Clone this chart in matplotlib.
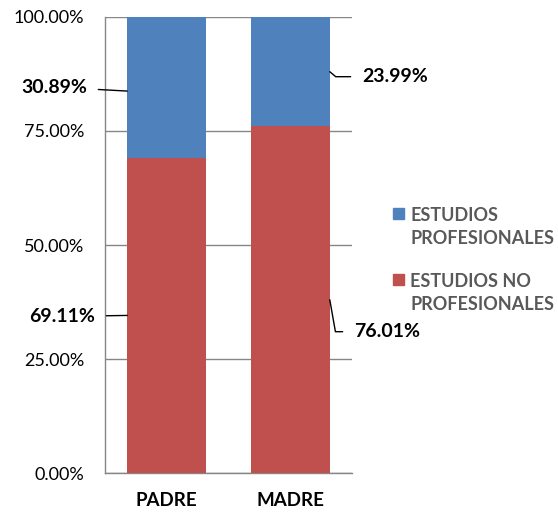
import matplotlib
matplotlib.use("Agg")
import matplotlib.pyplot as plt
from matplotlib.patches import Rectangle

plt.rcParams['font.family'] = ['Lato', 'DejaVu Sans']

categories = ["PADRE", "MADRE"]
no_profesionales = [69.11, 76.01]
profesionales = [30.89, 23.99]
series_names = ["ESTUDIOS\nPROFESIONALES", "ESTUDIOS NO\nPROFESIONALES"]
yticks = [0, 25, 50, 75, 100]

blue = "#4F81BD"
red = "#C0504D"
grid_gray = "#868686"

fig = plt.figure(figsize=(5.58, 5.16), dpi=100)
ax = fig.add_axes([105 / 558, 43 / 516, 247 / 558, 456 / 516])

x = list(range(len(categories)))
w = 0.64
ax.bar(x, no_profesionales, width=w, color=red, zorder=3)
ax.bar(x, profesionales, width=w, bottom=no_profesionales, color=blue, zorder=3)

ax.set_xlim(-0.5, 1.5)
ax.set_ylim(0, 100)
ax.set_yticks(yticks)
ax.set_yticklabels([f"{v:.2f}%" for v in yticks], fontsize=13)
ax.set_xticks(x)
ax.set_xticklabels(categories, fontsize=13.5, fontweight="bold")
ax.tick_params(axis="y", length=0, pad=15)
ax.tick_params(axis="x", length=0, pad=14)
ax.yaxis.grid(True, color=grid_gray, lw=1, zorder=0)
for s in ["top", "right"]:
    ax.spines[s].set_visible(False)
for s in ["left", "bottom"]:
    ax.spines[s].set_color(grid_gray)
    ax.spines[s].set_linewidth(1)

lab = dict(fontsize=14, fontweight="bold", va="center",
           textcoords="offset pixels", annotation_clip=False)

# PADRE labels (left side)
mid = no_profesionales[0] + profesionales[0] / 2
ax.annotate(f"{profesionales[0]:.2f}%", xy=(x[0] - w / 2, mid - 0.8), xytext=(-40, 4), ha="right",
            arrowprops=dict(arrowstyle="-", color="black", lw=1, shrinkA=6, shrinkB=0), **lab)
mid = no_profesionales[0] / 2
ax.annotate(f"{no_profesionales[0]:.2f}%", xy=(x[0] - w / 2, mid), xytext=(-32, -1), ha="right",
            arrowprops=dict(arrowstyle="-", color="black", lw=1, shrinkA=6, shrinkB=0), **lab)

# MADRE labels (right side)
mid = no_profesionales[1] + profesionales[1] / 2
ax.annotate(f"{profesionales[1]:.2f}%", xy=(x[1] + w / 2, mid), xytext=(32, -5), ha="left",
            arrowprops=dict(arrowstyle="-", color="black", lw=1, shrinkA=6, shrinkB=0,
                            connectionstyle="angle,angleA=0,angleB=-40,rad=0"), **lab)
mid = no_profesionales[1] / 2
ax.annotate(f"{no_profesionales[1]:.2f}%", xy=(x[1] + w / 2, mid), xytext=(24, -32), ha="left",
            arrowprops=dict(arrowstyle="-", color="black", lw=1, shrinkA=6, shrinkB=0,
                            connectionstyle="angle,angleA=0,angleB=-80,rad=0"), **lab)

# legend drawn by hand so the square sits on the first line
W, H = 558, 516
for i, (name, col) in enumerate(zip(series_names, [blue, red])):
    top = 208 + i * 66
    fig.patches.append(Rectangle((393 / W, 1 - (top + 11) / H), 11 / W, 11 / H,
                                 transform=fig.transFigure, color=col, figure=fig))
    fig.text(410 / W, 1 - (top - 1) / H, name, fontsize=13, fontweight="bold",
             color="#595959", va="top", ha="left", linespacing=1.4)

fig.savefig("out.png", dpi=100)
